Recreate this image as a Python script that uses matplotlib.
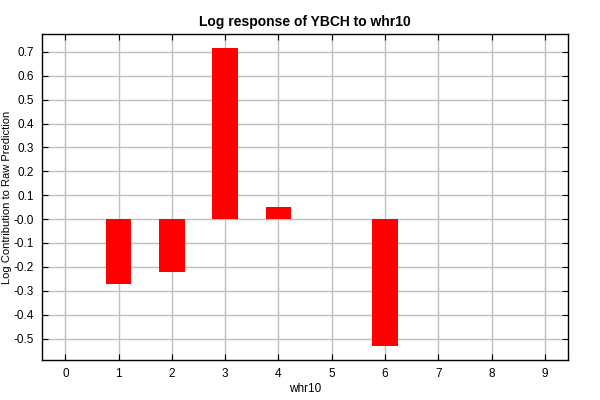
import matplotlib
matplotlib.use("Agg")
import matplotlib.pyplot as plt

plt.rcParams['font.family'] = ['Liberation Sans', 'DejaVu Sans']

# bar data
levels = [1, 2, 3, 4, 6]
contrib = [-0.27, -0.22, 0.715, 0.052, -0.53]
xticks = list(range(10))
yticks = [-0.5, -0.4, -0.3, -0.2, -0.1, 0.0, 0.1, 0.2, 0.3, 0.4, 0.5, 0.6, 0.7]
ytick_labels = ['-0.5', '-0.4', '-0.3', '-0.2', '-0.1', '-0.0', '0.1', '0.2', '0.3', '0.4', '0.5', '0.6', '0.7']

fig = plt.figure(figsize=(6, 4), dpi=100)
ax = fig.add_axes([0.07, 0.1, 0.877, 0.815])

ax.bar(levels, contrib, width=0.48, color='#ff0000', zorder=3)

ax.set_xlim(-0.44, 9.44)
ax.set_ylim(-0.59, 0.775)
ax.set_xticks(xticks)
ax.set_yticks(yticks)
ax.set_yticklabels(ytick_labels)
ax.grid(True, color='#c0c0c0', linewidth=1, zorder=0)
ax.tick_params(direction='in', top=True, right=True, length=4, labelsize=8.5,
               labeltop=False, labelright=False, pad=6)
for s in ax.spines.values():
    s.set_linewidth(1.0)

ax.set_title('Log response of YBCH to whr10', fontsize=10, fontweight='bold', pad=6)
ax.set_xlabel('whr10', fontsize=8.5, labelpad=2)
ax.set_ylabel('Log Contribution to Raw Prediction', fontsize=8, labelpad=1)

fig.savefig('out.png', dpi=100)
